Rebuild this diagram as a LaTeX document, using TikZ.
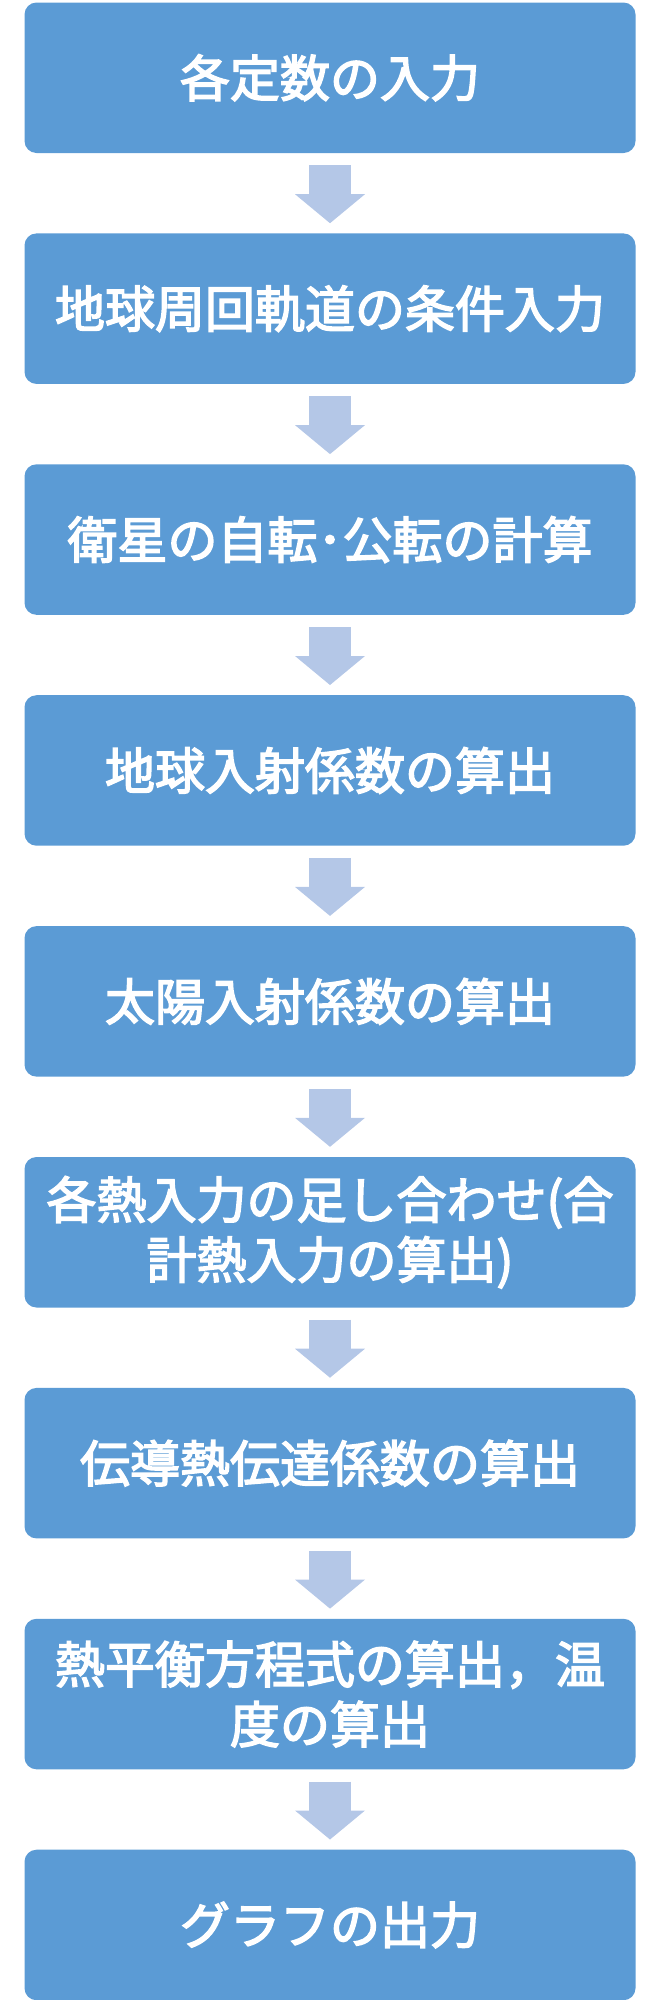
\documentclass[tikz,border=0pt]{standalone}
\usepackage{fontspec}
\setmainfont{Noto Sans CJK JP}[BoldFont=Noto Sans CJK JP, BoldFeatures={FakeBold=3}]
\usetikzlibrary{positioning, calc, arrows.meta}
\definecolor{boxblue}{RGB}{91,155,213}
\definecolor{arrowblue}{RGB}{180,199,231}

\tikzset{
  stepbox/.style={draw=none, fill=boxblue, rounded corners=12pt,
    minimum width=611pt, minimum height=150.5pt, inner sep=0pt,
    text=white, align=center,
    font=\fontsize{50}{60}\selectfont\bfseries},
  flowarrow/.style={arrowblue, line width=42pt,
    -{Triangle[width=70pt, length=29pt, line width=0pt]},
    shorten <=12pt, shorten >=10pt}
}

\begin{document}
\begin{tikzpicture}[x=1pt, y=1pt, node distance=80pt]
  \useasboundingbox (0,0) rectangle (660,-2000);
  % process steps
  \node[stepbox] (s1) at (330,-77.75) {各定数の入力};
  \node[stepbox, below=of s1] (s2) {地球周回軌道の条件入力};
  \node[stepbox, below=of s2] (s3) {衛星の自転･公転の計算};
  \node[stepbox, below=of s3] (s4) {地球入射係数の算出};
  \node[stepbox, below=of s4] (s5) {太陽入射係数の算出};
  \node[stepbox, below=of s5] (s6) {各熱入力の足し合わせ(合\\計熱入力の算出)};
  \node[stepbox, below=of s6] (s7) {伝導熱伝達係数の算出};
  \node[stepbox, below=of s7] (s8) {熱平衡方程式の算出，温\\度の算出};
  \node[stepbox, below=of s8] (s9) {グラフの出力};
  % arrows between steps
  \foreach \a/\b in {s1/s2, s2/s3, s3/s4, s4/s5, s5/s6, s6/s7, s7/s8, s8/s9}
    \draw[flowarrow] (\a.south) -- (\b.north);
\end{tikzpicture}
\end{document}
